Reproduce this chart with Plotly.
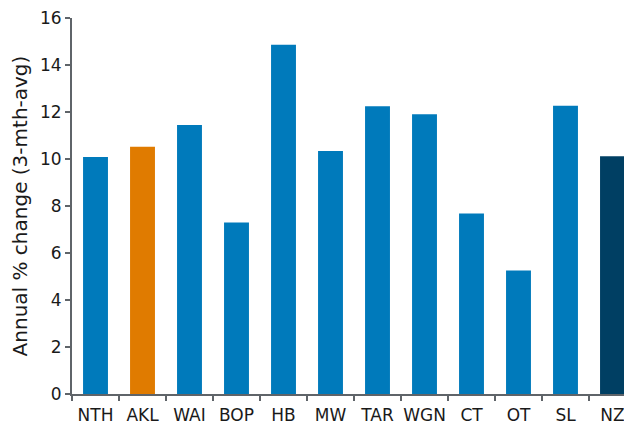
import plotly.graph_objects as go

# Regions and annual % change (3-month average)
regions = ["NTH", "AKL", "WAI", "BOP", "HB", "MW", "TAR", "WGN", "CT", "OT", "SL", "NZ"]
changes = [10.08, 10.52, 11.45, 7.30, 14.86, 10.34, 12.24, 11.90, 7.68, 5.26, 12.27, 10.12]
y_ticks = [0, 2, 4, 6, 8, 10, 12, 14, 16]

blue = "#007abb"
colors = [blue] * len(regions)
colors[regions.index("AKL")] = "#e07b00"
colors[regions.index("NZ")] = "#003f63"

axis_col = "#5f6469"

fig = go.Figure()
fig.add_trace(go.Bar(x=regions, y=changes, marker=dict(color=colors, line=dict(width=0)), showlegend=False))

# page body adds an 8px margin, so the figure is sized/offset to compensate
fig.update_layout(
    width=628, height=419,
    margin=dict(l=64, r=0, t=10, b=33),
    plot_bgcolor="white", paper_bgcolor="white",
    bargap=0.47,
    font=dict(family="DejaVu Sans, Verdana, sans-serif", size=17, color="#1a1a1a"),
)
fig.update_xaxes(
    showline=True, linecolor=axis_col, linewidth=2,
    ticks="outside", tickson="boundaries", ticklen=5, tickcolor=axis_col, tickwidth=1.5,
    tickangle=0, ticklabeloverflow="allow", ticklabelstandoff=5,
    showgrid=False, automargin=False,
)
fig.update_yaxes(
    range=[0, 16], tickvals=y_ticks,
    showline=True, linecolor=axis_col, linewidth=2,
    ticks="outside", ticklen=5, tickcolor=axis_col, tickwidth=1.5,
    ticklabeloverflow="allow",
    showgrid=False, zeroline=False, automargin=False,
    title=dict(text="Annual % change (3-mth-avg)", standoff=10),
)

fig.write_html("out.html")
